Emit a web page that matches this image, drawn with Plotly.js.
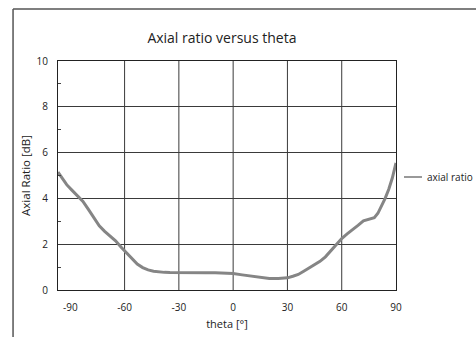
<!DOCTYPE html>
<html>
<head>
<meta charset="utf-8">
<script src="https://cdn.plot.ly/plotly-3.0.1.min.js"></script>
<style>html,body{margin:0;padding:0;background:#fff;}#chart{width:476px;height:337px;}</style>
</head>
<body>
<div id="chart"></div>
<script>
const theta = [-96.8, -94, -92, -89, -86, -83, -80, -77, -74, -71, -68, -65, -62, -59, -56, -53, -50, -47, -44, -41, -38, -35, -30, -25, -20, -15, -10, -5, 0, 5, 10, 15, 20, 25, 30, 33, 36, 39, 42, 45, 48, 51, 54, 57, 60, 63, 66, 69, 72, 75, 78, 80, 82, 84, 86, 88, 90];
const axialRatio = [5.15, 4.85, 4.6, 4.35, 4.12, 3.87, 3.52, 3.15, 2.8, 2.56, 2.36, 2.15, 1.88, 1.62, 1.38, 1.13, 0.98, 0.88, 0.82, 0.78, 0.77, 0.76, 0.75, 0.75, 0.75, 0.75, 0.75, 0.74, 0.72, 0.66, 0.6, 0.54, 0.5, 0.5, 0.53, 0.6, 0.68, 0.82, 0.97, 1.1, 1.25, 1.45, 1.72, 1.98, 2.25, 2.45, 2.62, 2.82, 3.02, 3.1, 3.16, 3.35, 3.65, 4.0, 4.4, 4.9, 5.55];
const xTicks = [-90, -60, -30, 0, 30, 60, 90];
const xGrid = [-60, -30, 0, 30, 60];
const yTicks = [0, 2, 4, 6, 8, 10];

const FONT = 'Open Sans, Lato, sans-serif';
const gridShapes = xGrid.map(v => ({type: 'line', xref: 'x', yref: 'paper', x0: v, x1: v, y0: 0, y1: 1, line: {color: '#3a3a3a', width: 1}, layer: 'below'}));
const frame = [
  {type: 'line', xref: 'paper', yref: 'paper', x0: -0.133, x1: 1.3, y0: 1.227, y1: 1.227, line: {color: '#555', width: 1.5}},
  {type: 'line', xref: 'paper', yref: 'paper', x0: -0.133, x1: -0.133, y0: 1.227, y1: -0.25, line: {color: '#555', width: 1.5}}
];

Plotly.newPlot('chart', [{
  x: theta, y: axialRatio, type: 'scatter', mode: 'lines', name: 'axial ratio',
  line: {color: '#858585', width: 3}
}], {
  width: 476, height: 337,
  margin: {l: 58, r: 80, t: 61, b: 47, autoexpand: false},
  paper_bgcolor: '#fff', plot_bgcolor: '#fff',
  font: {family: FONT, size: 9.5, color: '#222'},
  title: {text: 'Axial ratio versus theta', font: {family: FONT, size: 14, color: '#222'}, x: 0.485, xref: 'paper', y: 0.887, yanchor: 'middle'},
  showlegend: true,
  legend: {xref: 'container', yref: 'container', x: 0.813, y: 0.475, xanchor: 'left', yanchor: 'middle', font: {family: FONT, size: 10, color: '#222'}, bgcolor: 'rgba(0,0,0,0)'},
  xaxis: {
    range: [-96.8, 90], tickvals: xTicks, ticktext: xTicks.map(String), showgrid: false, zeroline: false,
    showline: true, linecolor: '#222', linewidth: 1, mirror: true, ticks: '', ticklabelstandoff: 8,
    tickfont: {family: FONT, size: 10, color: '#222'},
    title: {text: 'theta [°]', font: {family: FONT, size: 11, color: '#222'}, standoff: 7}
  },
  yaxis: {
    range: [0, 10], tickvals: yTicks, showgrid: true, gridcolor: '#3a3a3a', gridwidth: 1, zeroline: false,
    showline: true, linecolor: '#222', linewidth: 1, mirror: true, ticks: '', ticklabelstandoff: 7,
    tickfont: {family: FONT, size: 10, color: '#222'},
    minor: {tickvals: [1, 3, 5, 7, 9], ticks: 'inside', ticklen: 3, tickcolor: '#444', showgrid: false},
    title: {text: 'Axial Ratio [dB]', font: {family: FONT, size: 11.5, color: '#222'}, standoff: 3}
  },
  shapes: gridShapes.concat(frame)
}, {displayModeBar: false, staticPlot: true}).then(gd => {
  // shorter, thinner legend key as in the reference
  gd.querySelectorAll('g.legend .legendlines path').forEach(p => {
    p.setAttribute('d', 'M17,0h18');
    p.style.strokeWidth = '1.5px';
    p.style.stroke = '#777';
  });
});
</script>
</body>
</html>
